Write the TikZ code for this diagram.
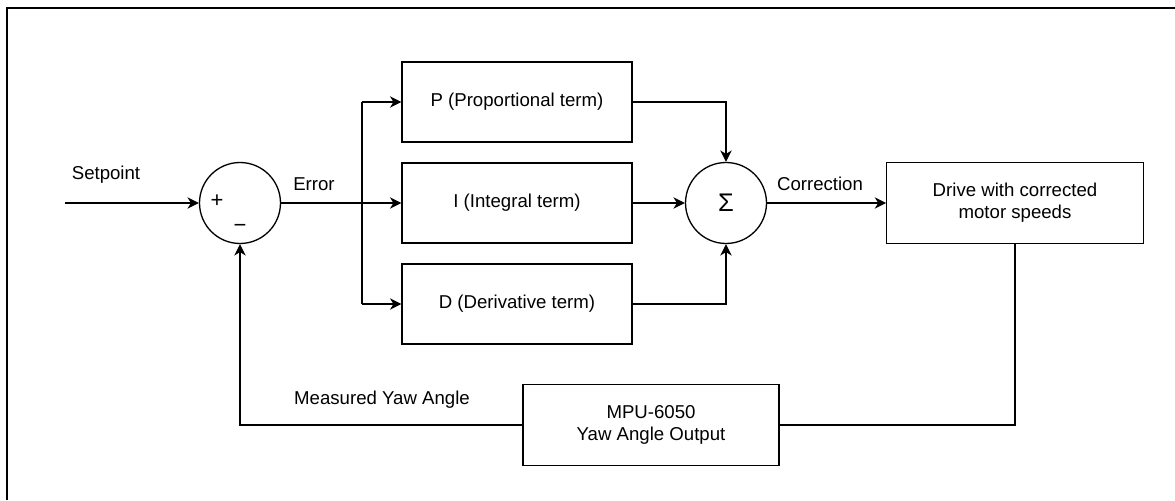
\documentclass[tikz,border=0pt]{standalone}
\usepackage{fontspec}
\setmainfont{Liberation Sans}
\usetikzlibrary{arrows.meta}
\begin{document}
\begin{tikzpicture}[x=0.02cm,y=-0.02cm,
  font=\fontsize{10.6}{12.5}\selectfont,
  line width=0.75pt,
  block/.style={draw,rectangle,minimum width=4.6cm,minimum height=1.6cm,inner sep=0pt,align=center},
  wideblock/.style={block,minimum width=5.13cm,minimum height=1.62cm},
  junction/.style={draw,circle,minimum size=1.62cm,inner sep=0pt},
  sig/.style={-{Stealth[length=6.5pt,width=6.5pt,inset=2pt]}},
  lbl/.style={inner sep=0pt},
  sign/.style={inner sep=0pt,font=\fontsize{12.5}{14}\selectfont}]
\useasboundingbox (0,0) rectangle (1175,500);
% outer frame (top and left edges only)
\draw[line width=1.1pt] (7,500) -- (7,8) -- (1175,8);

% summing junctions
\node[junction] (err) at (240,203) {};
\node[sign] (plus) at (217,201) {+};
\node[sign] (minus) at (240,228) {−};
\node[junction,font=\fontsize{14.5}{16}\selectfont] (sum) at (726,203) {Σ};

% PID blocks
\node[block] (P) at (517,102) {P (Proportional term)};
\node[block] (I) at (517,203) {I (Integral term)};
\node[block] (D) at (517,304) {D (Derivative term)};

% plant and sensor
\node[wideblock] (drive) at (1015,203) {Drive with corrected\\motor speeds};
\node[wideblock,minimum width=5.12cm] (mpu) at (651,425) {MPU-6050\\Yaw Angle Output};

% labels
\node[lbl] (lsp) at (106,175) {Setpoint};
\node[lbl] (lerr) at (314,184) {Error};
\node[lbl] (lcor) at (820,184) {Correction};
\node[lbl] (lmeas) at (382,400) {Measured Yaw Angle};

% setpoint input
\coordinate (in) at (65,203);
\draw[sig] (in) -- (err.west);

% error distribution
\coordinate (bTop) at (362,102);
\coordinate (bBot) at (362,304);
\draw[sig] (err.east) -- (I.west);
\draw (bTop) -- (bBot);
\draw[sig] (bTop) -- (P.west);
\draw[sig] (bBot) -- (D.west);

% PID terms into the sum
\draw[sig] (P.east) -| (sum.north);
\draw[sig] (I.east) -- (sum.west);
\draw[sig] (D.east) -| (sum.south);

% correction to the drive
\draw[sig] (sum.east) -- (drive.west);

% feedback path
\draw (drive.south) |- (mpu.east);
\draw[sig] (mpu.west) -| (err.south);
\end{tikzpicture}
\end{document}
